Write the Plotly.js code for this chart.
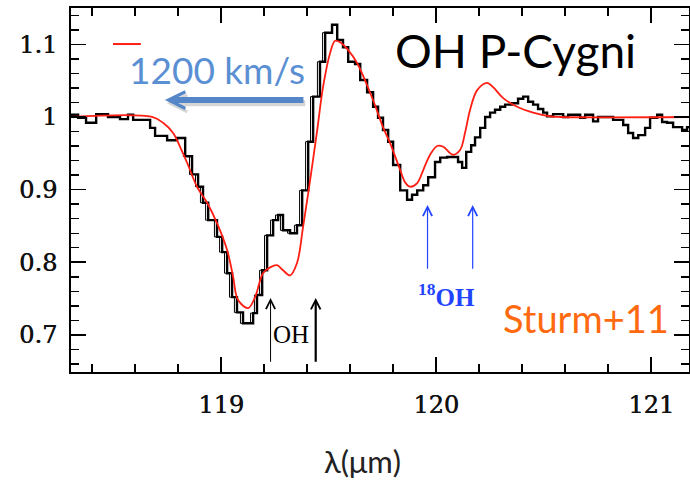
<!DOCTYPE html>
<html>
<head>
<meta charset="utf-8">
<script src="https://cdn.plot.ly/plotly-3.0.1.min.js"></script>
<style>
  html, body { margin: 0; padding: 0; background: #ffffff; }
  #chart { width: 690px; height: 480px; }
</style>
</head>
<body>
<div id="chart"></div>
<script>
// Observed spectrum (left bin edge in micron, normalised flux), drawn as a histogram
const lamObs = [
  118.302, 118.335, 118.372, 118.419, 118.474, 118.530, 118.567, 118.591, 118.670, 118.693,
  118.749, 118.795, 118.833, 118.865, 118.893, 118.916, 118.940, 118.981, 119.005, 119.028,
  119.051, 119.074, 119.102, 119.149, 119.167, 119.191, 119.214, 119.242, 119.265, 119.288,
  119.321, 119.353, 119.377, 119.405, 119.428, 119.460, 119.484, 119.516, 119.540, 119.567,
  119.591, 119.623, 119.647, 119.679, 119.707, 119.730, 119.753, 119.777, 119.800, 119.833,
  119.865, 119.888, 119.912, 119.940, 119.963, 119.995, 120.019, 120.051, 120.079, 120.102,
  120.121, 120.140, 120.163, 120.181, 120.205, 120.228, 120.251, 120.274, 120.298, 120.321,
  120.353, 120.381, 120.405, 120.428, 120.451, 120.474, 120.498, 120.516, 120.544, 120.591,
  120.614, 120.670, 120.693, 120.730, 120.753, 120.795, 120.823, 120.870, 120.893, 120.916,
  120.940, 120.972, 120.995, 121.028, 121.051, 121.074, 121.102, 121.144, 121.167, 121.181
];
const fluxObs = [
  1.003, 0.999, 0.992, 1.004, 1.000, 0.997, 1.003, 0.996, 0.985, 0.974,
  0.968, 0.971, 0.946, 0.921, 0.904, 0.882, 0.858, 0.835, 0.814, 0.785,
  0.752, 0.731, 0.716, 0.730, 0.755, 0.789, 0.837, 0.858, 0.865, 0.844,
  0.840, 0.851, 0.899, 0.966, 1.028, 1.076, 1.116, 1.127, 1.106, 1.096,
  1.076, 1.073, 1.051, 1.034, 1.014, 0.999, 0.982, 0.966, 0.934, 0.899,
  0.886, 0.893, 0.899, 0.906, 0.917, 0.938, 0.944, 0.945, 0.945, 0.938,
  0.930, 0.952, 0.961, 0.972, 0.985, 1.000, 1.006, 1.010, 1.014, 1.017,
  1.019, 1.025, 1.028, 1.021, 1.017, 1.011, 1.006, 1.001, 1.004, 1.000,
  1.003, 0.999, 1.003, 0.994, 1.000, 1.000, 0.996, 0.989, 0.978, 0.971,
  0.975, 0.985, 0.999, 1.003, 0.993, 0.992, 0.986, 0.982, 0.986, 0.986
];

// Second (finer) rendering of the absorption trough
const lamAlt = [
  118.822, 118.853, 118.881, 118.904, 118.928, 118.969, 118.993, 119.016, 119.039, 119.062,
  119.090, 119.137, 119.155, 119.179, 119.202, 119.230, 119.253, 119.276, 119.309, 119.341,
  119.365, 119.393, 119.416, 119.448, 119.472, 119.500
];
const fluxAlt = [
  0.946, 0.921, 0.904, 0.882, 0.858, 0.835, 0.814, 0.785, 0.752, 0.731,
  0.716, 0.730, 0.755, 0.789, 0.837, 0.858, 0.865, 0.844, 0.840, 0.851,
  0.899, 0.966, 1.028, 1.076, 1.116, 1.116
];

// P-Cygni model profile
const lamModel = [
  118.302, 118.679, 118.730, 118.777, 118.809, 118.842, 118.888, 118.935, 118.981, 119.028,
  119.056, 119.079, 119.126, 119.158, 119.195, 119.228, 119.260, 119.288, 119.321, 119.353,
  119.381, 119.414, 119.447, 119.474, 119.507, 119.530, 119.553, 119.591, 119.633, 119.707,
  119.753, 119.786, 119.833, 119.856, 119.879, 119.912, 119.940, 119.972, 120.005, 120.033,
  120.079, 120.112, 120.135, 120.158, 120.191, 120.237, 120.265, 120.312, 120.377, 120.451,
  120.530, 120.577, 121.181
];
const fluxModel = [
  1.000, 1.000, 0.992, 0.978, 0.959, 0.937, 0.904, 0.882, 0.854, 0.817,
  0.780, 0.748, 0.737, 0.752, 0.785, 0.793, 0.796, 0.789, 0.782, 0.799,
  0.848, 0.913, 0.982, 1.041, 1.088, 1.105, 1.103, 1.092, 1.074, 1.023,
  0.986, 0.964, 0.927, 0.910, 0.904, 0.909, 0.927, 0.948, 0.960, 0.959,
  0.948, 0.955, 0.979, 1.010, 1.037, 1.047, 1.041, 1.026, 1.014, 1.006,
  1.001, 1.000, 1.000
];

// Line positions (micron)
const ohLines = [119.23, 119.44];
const oh18Lines = [119.96, 120.17];

// Axis ticks
const xTickVals = [119, 120, 121];
const xTickText = ['119', '120', '121'];
const yTickVals = [0.7, 0.8, 0.9, 1.0, 1.1];
const yTickText = ['0.7', '0.8', '0.9', '1', '1.1'];

const traces = [
  { x: lamAlt, y: fluxAlt, type: 'scatter', mode: 'lines',
    line: { shape: 'hv', color: '#000000', width: 1 }, hoverinfo: 'skip' },
  { x: lamObs, y: fluxObs, type: 'scatter', mode: 'lines',
    line: { shape: 'hv', color: '#000000', width: 2.4 } },
  { x: lamModel, y: fluxModel, type: 'scatter', mode: 'lines',
    line: { shape: 'spline', smoothing: 1, color: '#ff1e14', width: 1.8 } }
];

const tickFont = { family: 'DejaVu Serif', size: 24, color: '#111111', shadow: '0.6px 0 0 #111111' };
const sans = 'Lato, "Open Sans", sans-serif';

const annotations = [];

// OH doublet markers (thin + thick) and 18OH markers
ohLines.forEach((lam, i) => {
  annotations.push({
    x: lam, y: 0.751, ax: lam, ay: 0.661, xref: 'x', yref: 'y', axref: 'x', ayref: 'y',
    text: '', showarrow: true, arrowhead: 5, arrowcolor: '#000000',
    arrowwidth: i === 0 ? 1 : 2.2, arrowsize: i === 0 ? 1.8 : 0.85
  });
});
oh18Lines.forEach(lam => {
  annotations.push({
    x: lam, y: 0.879, ax: lam, ay: 0.789, xref: 'x', yref: 'y', axref: 'x', ayref: 'y',
    text: '', showarrow: true, arrowhead: 5, arrowcolor: '#2244ff',
    arrowwidth: 1.2, arrowsize: 1.5
  });
});

// Velocity arrow with a soft shadow
annotations.push({
  x: 0.155, y: 0.738, xref: 'paper', yref: 'paper', ax: 140, ay: 0,
  text: '', showarrow: true, arrowhead: 5, arrowwidth: 6, arrowsize: 0.55,
  arrowcolor: 'rgba(0,0,0,0.16)'
});
annotations.push({
  x: 0.152, y: 0.747, xref: 'paper', yref: 'paper', ax: 140, ay: 0,
  text: '', showarrow: true, arrowhead: 5, arrowwidth: 6, arrowsize: 0.55,
  arrowcolor: '#5587c8'
});

// Text labels
annotations.push(
  { x: 0.720, y: 0.882, xref: 'paper', yref: 'paper', text: 'OH P-Cygni', showarrow: false,
    xanchor: 'center', yanchor: 'middle', font: { family: sans, size: 46, color: '#000000' } },
  { x: 0.236, y: 0.832, xref: 'paper', yref: 'paper', text: '1200 km/s', showarrow: false,
    xanchor: 'center', yanchor: 'middle', font: { family: sans, size: 37, color: '#5b8fd3' } },
  { x: 0.833, y: 0.148, xref: 'paper', yref: 'paper', text: 'Sturm+11', showarrow: false,
    xanchor: 'center', yanchor: 'middle', font: { family: sans, size: 38, color: '#ff6a10' } },
  { x: 0.356, y: 0.104, xref: 'paper', yref: 'paper', text: 'OH', showarrow: false,
    xanchor: 'center', yanchor: 'middle', font: { family: 'Liberation Serif', size: 25, color: '#000000' } },
  { x: 0.607, y: 0.212, xref: 'paper', yref: 'paper', text: '<sup>18</sup>OH', showarrow: false,
    xanchor: 'center', yanchor: 'middle', font: { family: 'Liberation Serif', size: 25, color: '#2244ff', weight: 'bold' } },
  { x: 0.471, y: -0.245, xref: 'paper', yref: 'paper', text: 'λ(μm)', showarrow: false,
    xanchor: 'center', yanchor: 'middle', font: { family: sans, size: 31, color: '#222222' } }
);

const layout = {
  width: 690, height: 480,
  margin: { l: 71, r: 1, t: 8, b: 108 },
  paper_bgcolor: '#ffffff', plot_bgcolor: '#ffffff',
  showlegend: false,
  xaxis: {
    range: [118.302, 121.176], showgrid: false, zeroline: false,
    showline: true, linecolor: '#000000', linewidth: 2, mirror: 'ticks',
    ticks: 'inside', ticklen: 15, tickwidth: 1.6, tickcolor: '#000000',
    tickmode: 'array', tickvals: xTickVals, ticktext: xTickText,
    tickfont: tickFont, ticklabelstandoff: 10,
    minor: { tickmode: 'linear', tick0: 119, dtick: 0.2, ticks: 'inside', ticklen: 8, tickwidth: 1.4, tickcolor: '#000000', showgrid: false }
  },
  yaxis: {
    range: [0.649, 1.150], showgrid: false, zeroline: false,
    showline: true, linecolor: '#000000', linewidth: 2, mirror: 'ticks',
    ticks: 'inside', ticklen: 15, tickwidth: 1.6, tickcolor: '#000000',
    tickmode: 'array', tickvals: yTickVals, ticktext: yTickText,
    tickfont: tickFont, ticklabelstandoff: 7,
    minor: { tickmode: 'linear', tick0: 0.7, dtick: 0.02, ticks: 'inside', ticklen: 8, tickwidth: 1.4, tickcolor: '#000000', showgrid: false }
  },
  shapes: [
    // model swatch beside the velocity label
    { type: 'line', xref: 'paper', yref: 'paper', x0: 0.068, x1: 0.113, y0: 0.901, y1: 0.901,
      line: { color: '#ff1e14', width: 2 } }
  ],
  annotations: annotations
};

Plotly.newPlot('chart', traces, layout, { displayModeBar: false, staticPlot: true });
</script>
</body>
</html>
